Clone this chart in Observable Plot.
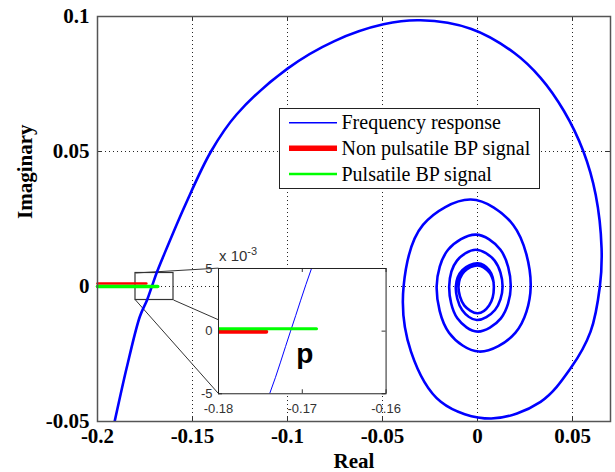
<!DOCTYPE html>
<html><head><meta charset="utf-8">
<script src="https://cdn.jsdelivr.net/npm/d3@7"></script>
<script src="https://cdn.jsdelivr.net/npm/@observablehq/plot@0.6"></script>
<style>
html,body{margin:0;padding:0;background:#fff;}
#wrap{position:relative;width:615px;height:472px;overflow:hidden;}
</style></head><body><div id="wrap"></div>
<script>
// ---------- data ----------
const xDomain = [-0.2, 0.07];
const yDomain = [-0.05, 0.1];
const xTicks = [-0.2, -0.15, -0.1, -0.05, 0, 0.05];
const yTicks = [-0.05, 0, 0.05, 0.1];
const axisLabels = ["Real", "Imaginary"];

const spiralRe = [-0.1935, -0.1912, -0.1847, -0.1777, -0.1739, -0.1714, -0.1689, -0.1654, -0.1537, -0.1402, -0.1268, -0.1000, -0.0753, -0.0495, -0.0300, -0.0032, 0.0194, 0.0332, 0.0455, 0.0557, 0.0622, 0.0653, 0.0644, 0.0595, 0.0490, 0.0332, 0.0072, -0.0193, -0.0350, -0.0389,
  -0.0287, -0.0035, 0.0188, 0.0280, 0.0200, 0.0008, -0.0150, -0.0215,
  -0.0155, -0.0009, 0.0121, 0.0175, 0.0123, 0.0000, -0.0106, -0.0149,
  -0.0108, -0.0009, 0.0090, 0.0132, 0.0092, -0.0004, -0.0081, -0.0114,
  -0.0080, 0.0001, 0.0061, 0.0086, 0.0061, 0.0001, -0.0070, -0.0100,
  -0.0070, 0.0001, 0.0062, 0.0085];
const spiralIm = [-0.0580, -0.0507, -0.0303, -0.0111, -0.0050, 0.0000, 0.0050, 0.0111, 0.0304, 0.0501, 0.0637, 0.0807, 0.0909, 0.0971, 0.0986, 0.0954, 0.0865, 0.0773, 0.0650, 0.0501, 0.0340, 0.0142, 0.0000, -0.0167, -0.0303, -0.0427, -0.0489, -0.0427, -0.0241, 0.0000,
  0.0228, 0.0322, 0.0228, 0.0000, -0.0171, -0.0241, -0.0171, 0.0000,
  0.0136, 0.0192, 0.0136, 0.0000, -0.0118, -0.0167, -0.0118, 0.0000,
  0.0096, 0.0136, 0.0096, 0.0000, -0.0087, -0.0124, -0.0087, 0.0000,
  0.0061, 0.0086, 0.0061, 0.0000, -0.0070, -0.0099, -0.0070, 0.0000,
  0.0055, 0.0078, 0.0052, 0.0015];

const nonPulsatileRe = [-0.2, -0.1743];
const nonPulsatileIm = [0, 0];
const pulsatileRe = [-0.2, -0.1683];
const pulsatileIm = [0, 0];

const insetXDomain = [-0.18, -0.16];
const insetYDomain = [-0.005, 0.005];
const insetXTicks = [-0.18, -0.17, -0.16];
const insetYTicks = [-0.005, 0, 0.005];
const insetBoxRe = [-0.1364, -0.0482];   // inset axes placement, in main data units
const insetBoxIm = [-0.0396, 0.0068];
const insetExponent = ["x 10", "-3"];
const noteText = ["p"];
const noteRe = [-0.1697];
const noteIm = [-0.0018];

const legendLabels = ["Frequency response", "Non pulsatile BP signal", "Pulsatile BP signal"];
const seriesColors = ["#0000ff", "#ff0000", "#00ff00"];

// ---------- build ----------
const spiral = spiralRe.map((x, i) => ({x, y: spiralIm[i]}));
const nonPuls = nonPulsatileRe.map((x, i) => ({x, y: nonPulsatileIm[i]}));
const puls = pulsatileRe.map((x, i) => ({x, y: pulsatileIm[i]}));
const fmt = d => d === 0 ? "0" : String(+d.toFixed(4));

const connectors = [
  {x1: insetXDomain[0], y1: insetYDomain[1], x2: insetBoxRe[0], y2: insetBoxIm[1]},
  {x1: insetXDomain[1], y1: insetYDomain[0], x2: insetBoxRe[1], y2: insetBoxIm[0]},
  {x1: insetXDomain[0], y1: insetYDomain[0], x2: insetBoxRe[0], y2: insetBoxIm[0]}
];

const W = 615, H = 472, mL = 97, mR = 5, mT = 16, mB = 51;
const fw = W - mL - mR, fh = H - mT - mB;

const main = Plot.plot({
  width: W, height: H, marginLeft: mL, marginRight: mR, marginTop: mT, marginBottom: mB,
  style: {fontFamily: "'Liberation Serif','Times New Roman',serif", fontSize: "21px", fontWeight: "bold", color: "#000", background: "#fff"},
  x: {domain: xDomain},
  y: {domain: yDomain},
  marks: [
    Plot.gridX(xTicks, {stroke: "#000", strokeOpacity: 0.85, strokeDasharray: "1,3"}),
    Plot.gridY(yTicks, {stroke: "#000", strokeOpacity: 0.85, strokeDasharray: "1,3"}),
    Plot.tickX(xTicks, {stroke: "#333", insetTop: fh - 5}),
    Plot.tickX(xTicks, {stroke: "#333", insetBottom: fh - 5}),
    Plot.tickY(yTicks, {stroke: "#333", insetRight: fw - 5}),
    Plot.tickY(yTicks, {stroke: "#333", insetLeft: fw - 5}),
    Plot.axisX(xTicks, {tickSize: 0, tickPadding: 7, tickFormat: fmt, label: null}),
    Plot.axisY(yTicks, {tickSize: 0, tickPadding: 8, tickFormat: fmt, label: null}),
    Plot.text([axisLabels[0]], {frameAnchor: "bottom", dy: 40, text: d => d, lineAnchor: "middle", fill: "#000"}),
    Plot.text([axisLabels[1]], {frameAnchor: "left", dx: -72, text: d => d, rotate: -90, lineAnchor: "middle", fill: "#000"}),
    Plot.rect([0], {x1: () => insetXDomain[0], x2: () => insetXDomain[1], y1: () => insetYDomain[0], y2: () => insetYDomain[1], fill: "none", stroke: "#333", strokeWidth: 1.2}),
    Plot.link(connectors, {x1: "x1", y1: "y1", x2: "x2", y2: "y2", stroke: "#333", strokeWidth: 1}),
    Plot.line(spiral, {x: "x", y: "y", stroke: seriesColors[0], strokeWidth: 2.6, curve: "catmull-rom", clip: true}),
    Plot.line(nonPuls, {x: "x", y: "y", stroke: seriesColors[1], strokeWidth: 2.6, dy: -3}),
    Plot.line(puls, {x: "x", y: "y", stroke: seriesColors[2], strokeWidth: 3.6}),
    Plot.frame({stroke: "#555", strokeWidth: 1.5})
  ]
});
document.getElementById("wrap").appendChild(main);

// legend
const svg = d3.select(main);
const lg = svg.append("g").attr("text-anchor", "start");
const lx = 279.5, ly = 108.5, lw = 260, lh = 80;
lg.append("rect").attr("x", lx).attr("y", ly).attr("width", lw).attr("height", lh).attr("fill", "#fff").attr("stroke", "#222").attr("stroke-width", 1);
const rowY = [122.7, 148.3, 174];
const rowW = [1.5, 5.5, 2.5];
legendLabels.forEach((t, i) => {
  lg.append("line").attr("x1", 289).attr("x2", 337).attr("y1", rowY[i]).attr("y2", rowY[i]).attr("stroke", seriesColors[i]).attr("stroke-width", rowW[i]);
  lg.append("text").attr("x", 341.5).attr("y", rowY[i]).attr("dy", "0.33em").attr("text-anchor", "start").attr("font-weight", "normal").attr("font-size", 20).attr("fill", "#000").text(t);
});

// inset
const xs = main.scale("x"), ys = main.scale("y");
const iL = xs.apply(insetBoxRe[0]), iR = xs.apply(insetBoxRe[1]);
const iT = ys.apply(insetBoxIm[1]), iB = ys.apply(insetBoxIm[0]);
const imL = 40, imR = 10, imT = 26, imB = 28;
const ifw = iR - iL, ifh = iB - iT;
const inset = Plot.plot({
  width: ifw + imL + imR, height: ifh + imT + imB,
  marginLeft: imL, marginRight: imR, marginTop: imT, marginBottom: imB,
  style: {fontFamily: "'Liberation Sans',Arial,sans-serif", fontSize: "13px", color: "#333", background: "transparent", overflow: "visible"},
  x: {domain: insetXDomain},
  y: {domain: insetYDomain},
  marks: [
    Plot.frame({fill: "#fff", stroke: null}),
    Plot.tickX(insetXTicks, {stroke: "#333", insetTop: ifh - 4}),
    Plot.tickX(insetXTicks, {stroke: "#333", insetBottom: ifh - 4}),
    Plot.tickY(insetYTicks, {stroke: "#333", insetRight: ifw - 4}),
    Plot.tickY(insetYTicks, {stroke: "#333", insetLeft: ifw - 4}),
    Plot.axisX(insetXTicks, {tickSize: 0, tickPadding: 10, tickFormat: fmt, label: null, fill: "#333"}),
    Plot.axisY(insetYTicks, {tickSize: 0, tickPadding: 6, tickFormat: d => String(Math.round(d * 1000)), label: null, fill: "#333"}),
    Plot.line(spiral, {x: "x", y: "y", stroke: seriesColors[0], strokeWidth: 1, curve: "catmull-rom", clip: true}),
    Plot.line(nonPuls, {x: "x", y: "y", stroke: seriesColors[1], strokeWidth: 4, dy: 0.5, clip: true}),
    Plot.line(puls, {x: "x", y: "y", stroke: seriesColors[2], strokeWidth: 3, dy: -2.5, clip: true}),
    Plot.text(noteText, {x: () => noteRe[0], y: () => noteIm[0], text: d => d, fontSize: 28, fontWeight: "bold", fill: "#000", lineAnchor: "middle"}),
    Plot.frame({stroke: "#222", strokeWidth: 1})
  ]
});
inset.style.position = "absolute";
inset.style.left = (iL - imL) + "px";
inset.style.top = (iT - imT) + "px";
document.getElementById("wrap").appendChild(inset);
const ex = d3.select(inset).append("text").attr("x", imL + 1).attr("y", imT - 7).attr("text-anchor", "start").attr("fill", "#333").attr("font-size", 15);
ex.append("tspan").text(insetExponent[0]);
ex.append("tspan").attr("dy", -6).attr("font-size", 11).text(insetExponent[1]);
</script></body></html>
